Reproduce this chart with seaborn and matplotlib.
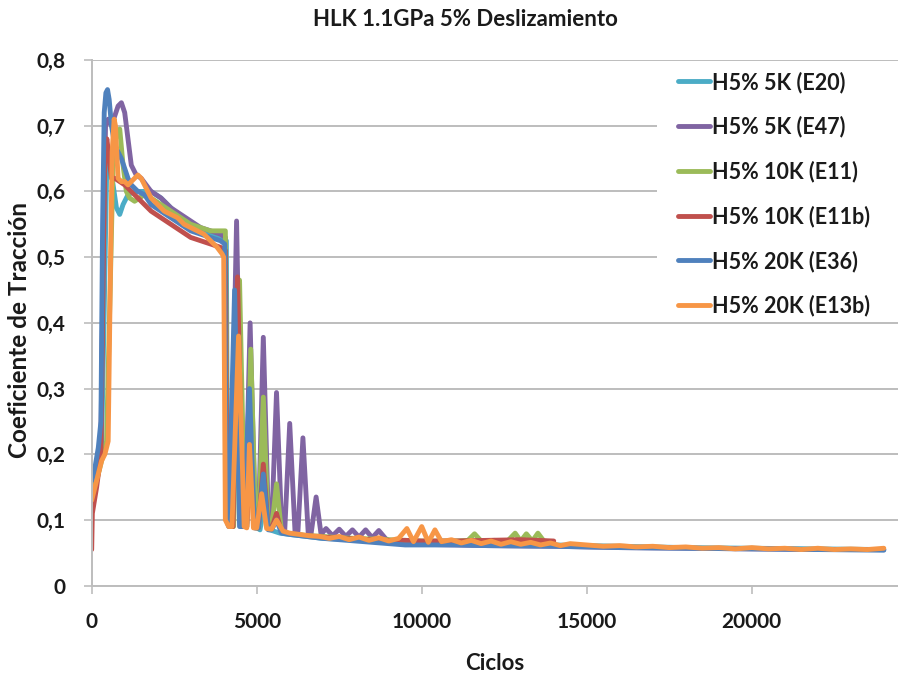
import matplotlib
matplotlib.use("Agg")
import matplotlib.pyplot as plt
from matplotlib.patches import Rectangle
import pandas as pd
import seaborn as sns

# Curvas de coeficiente de traccion
labels = ["H5% 5K (E20)", "H5% 5K (E47)", "H5% 10K (E11)",
          "H5% 10K (E11b)", "H5% 20K (E36)", "H5% 20K (E13b)"]
colors = ["#4BACC6", "#8064A2", "#9BBB59", "#C0504D", "#4F81BD", "#F79646"]

e20_x = [0, 150, 300, 380, 450, 520, 620, 750, 850, 950,
         1100, 1300, 1500, 1800, 2100, 2400, 2700, 3000, 3300, 3600,
         3900, 4080, 4120, 4250, 4420, 4600, 4700, 4800, 4950, 5100,
         5250, 5400, 5700, 6000, 6500, 7000, 8000, 9000, 10000, 11000,
         12000, 13000, 14000, 16000, 18000, 20000, 22000, 24000]
e20_y = [0.15, 0.17, 0.21, 0.42, 0.62, 0.65, 0.62, 0.575, 0.565, 0.58,
         0.595, 0.60, 0.60, 0.60, 0.59, 0.575, 0.56, 0.55, 0.54, 0.535,
         0.53, 0.525, 0.10, 0.09, 0.37, 0.09, 0.095, 0.25, 0.09, 0.085,
         0.13, 0.085, 0.08, 0.078, 0.075, 0.072, 0.07, 0.068, 0.066, 0.065,
         0.064, 0.063, 0.062, 0.06, 0.058, 0.057, 0.056, 0.055]

e47_x = [0, 150, 280, 350, 420, 500, 600, 700, 800, 900,
         1000, 1100, 1200, 1350, 1500, 1800, 2100, 2400, 2700, 3000,
         3300, 3600, 3900, 4050, 4100, 4200, 4390, 4560, 4650, 4800,
         4960, 5050, 5200, 5360, 5450, 5600, 5760, 5850, 6000, 6160,
         6250, 6400, 6560, 6650, 6800, 6950, 7100, 7300, 7500, 7700,
         7900, 8100, 8300, 8500, 8700, 8900, 9100, 9500, 10000, 11000,
         12000, 14000, 16000, 18000, 20000, 22000, 24000]
e47_y = [0.15, 0.18, 0.22, 0.50, 0.70, 0.71, 0.70, 0.715, 0.73, 0.735,
         0.72, 0.68, 0.64, 0.625, 0.62, 0.60, 0.59, 0.575, 0.565, 0.555,
         0.545, 0.54, 0.535, 0.53, 0.10, 0.09, 0.555, 0.09, 0.09, 0.40,
         0.09, 0.09, 0.378, 0.088, 0.088, 0.294, 0.085, 0.085, 0.247, 0.083,
         0.083, 0.225, 0.08, 0.08, 0.135, 0.078, 0.087, 0.076, 0.086, 0.075,
         0.085, 0.074, 0.085, 0.073, 0.084, 0.072, 0.065, 0.064, 0.063, 0.062,
         0.061, 0.06, 0.058, 0.057, 0.056, 0.055, 0.055]

e11_x = [0, 150, 300, 450, 560, 650, 750, 850, 950, 1050,
         1150, 1300, 1450, 1600, 1800, 2100, 2400, 2700, 3000, 3300,
         3600, 3800, 4050, 4120, 4200, 4300, 4480, 4640, 4700, 4820,
         4970, 5050, 5200, 5350, 5450, 5600, 5750, 5900, 6200, 6600,
         7000, 7500, 8000, 8500, 9000, 9500, 10000, 10500, 11000, 11400,
         11600, 11800, 12200, 12600, 12830, 13000, 13170, 13350, 13520, 13700,
         14000]
e11_y = [0.14, 0.16, 0.19, 0.22, 0.45, 0.65, 0.69, 0.695, 0.64, 0.60,
         0.59, 0.585, 0.59, 0.595, 0.59, 0.58, 0.57, 0.56, 0.55, 0.545,
         0.54, 0.54, 0.54, 0.10, 0.09, 0.09, 0.465, 0.09, 0.09, 0.36,
         0.088, 0.088, 0.287, 0.086, 0.086, 0.155, 0.082, 0.08, 0.078, 0.076,
         0.075, 0.073, 0.072, 0.071, 0.07, 0.069, 0.068, 0.068, 0.068, 0.069,
         0.079, 0.068, 0.069, 0.068, 0.08, 0.068, 0.079, 0.068, 0.08, 0.068,
         0.066]

e11b_x = [0, 20, 150, 280, 340, 400, 460, 530, 600, 700,
          850, 1000, 1200, 1400, 1600, 1800, 2100, 2400, 2700, 3000,
          3300, 3600, 3900, 4050, 4100, 4200, 4280, 4420, 4580, 4700,
          4800, 4950, 5050, 5200, 5350, 5450, 5600, 5750, 6000, 6500,
          7000, 7500, 8000, 8500, 9000, 9500, 10000, 11000, 12000, 13000,
          14000]
e11b_y = [0.055, 0.11, 0.15, 0.20, 0.45, 0.66, 0.68, 0.65, 0.62, 0.62,
          0.615, 0.61, 0.60, 0.59, 0.58, 0.57, 0.56, 0.55, 0.54, 0.53,
          0.525, 0.52, 0.515, 0.51, 0.10, 0.09, 0.09, 0.47, 0.09, 0.09,
          0.20, 0.088, 0.088, 0.185, 0.086, 0.086, 0.11, 0.082, 0.079, 0.076,
          0.074, 0.072, 0.071, 0.07, 0.069, 0.069, 0.068, 0.068, 0.069, 0.07,
          0.068]

e36_x = [0, 100, 200, 280, 330, 380, 430, 480, 530, 600,
         700, 800, 900, 1000, 1100, 1200, 1400, 1600, 1800, 2100,
         2400, 2700, 3000, 3300, 3600, 3900, 4030, 4080, 4150, 4330,
         4480, 4600, 4780, 4930, 5050, 5200, 5350, 5450, 5600, 5750,
         6000, 6500, 7000, 7500, 8000, 8500, 9000, 9500, 10000, 10500,
         11000, 12000, 14000, 16000, 18000, 20000, 22000, 24000]
e36_y = [0.16, 0.18, 0.21, 0.25, 0.55, 0.72, 0.75, 0.755, 0.74, 0.70,
         0.67, 0.66, 0.65, 0.635, 0.62, 0.61, 0.60, 0.595, 0.58, 0.57,
         0.56, 0.55, 0.54, 0.535, 0.53, 0.525, 0.52, 0.10, 0.09, 0.45,
         0.09, 0.09, 0.30, 0.088, 0.088, 0.17, 0.085, 0.085, 0.10, 0.08,
         0.078, 0.075, 0.072, 0.07, 0.068, 0.066, 0.064, 0.062, 0.062, 0.062,
         0.062, 0.061, 0.06, 0.058, 0.057, 0.056, 0.055, 0.054]

e13b_x = [0, 100, 200, 300, 400, 500, 560, 620, 680, 720,
          760, 800, 900, 1000, 1100, 1200, 1300, 1400, 1500, 1600,
          1700, 1800, 2000, 2200, 2400, 2600, 2800, 3000, 3200, 3400,
          3600, 3800, 3950, 4000, 4050, 4150, 4250, 4450, 4620, 4700,
          4780, 4900, 5000, 5150, 5300, 5450, 5600, 5800, 6000, 6300,
          6600, 6900, 7200, 7500, 7800, 8100, 8400, 8700, 9000, 9300,
          9550, 9750, 10000, 10200, 10400, 10600, 10900, 11200, 11500, 11800,
          12100, 12400, 12700, 13000, 13300, 13600, 13900, 14200, 14500, 15000,
          15500, 16000, 16500, 17000, 17500, 18000, 18500, 19000, 19500, 20000,
          20500, 21000, 21500, 22000, 22500, 23000, 23500, 24000]
e13b_y = [0.13, 0.15, 0.17, 0.19, 0.20, 0.22, 0.45, 0.66, 0.71, 0.70,
          0.66, 0.62, 0.615, 0.615, 0.61, 0.615, 0.62, 0.625, 0.62, 0.61,
          0.60, 0.59, 0.58, 0.57, 0.565, 0.56, 0.55, 0.545, 0.54, 0.535,
          0.525, 0.515, 0.505, 0.50, 0.10, 0.09, 0.09, 0.38, 0.09, 0.088,
          0.215, 0.088, 0.088, 0.14, 0.087, 0.086, 0.10, 0.083, 0.08, 0.078,
          0.076, 0.075, 0.072, 0.075, 0.07, 0.074, 0.069, 0.073, 0.068, 0.072,
          0.087, 0.067, 0.09, 0.066, 0.085, 0.067, 0.07, 0.065, 0.069, 0.064,
          0.068, 0.063, 0.067, 0.063, 0.066, 0.062, 0.065, 0.061, 0.064, 0.062,
          0.06, 0.061, 0.059, 0.06, 0.058, 0.059, 0.057, 0.058, 0.056, 0.058,
          0.056, 0.057, 0.055, 0.057, 0.055, 0.056, 0.055, 0.057]

series_x = [e20_x, e47_x, e11_x, e11b_x, e36_x, e13b_x]
series_y = [e20_y, e47_y, e11_y, e11b_y, e36_y, e13b_y]

frames = []
for lab, xs, ys in zip(labels, series_x, series_y):
    frames.append(pd.DataFrame({"Ciclos": xs, "coef": ys, "serie": lab}))
df = pd.concat(frames, ignore_index=True)

sns.set_theme(style="white")
plt.rcParams["font.family"] = ["Lato", "DejaVu Sans"]
plt.rcParams["font.weight"] = "bold"

fig = plt.figure(figsize=(8.98, 6.75), dpi=100)
ax = fig.add_axes([0.1021, 0.1323, 0.8979, 0.7788])

sns.lineplot(data=df, x="Ciclos", y="coef", hue="serie", hue_order=labels,
             palette=dict(zip(labels, colors)), estimator=None, sort=False,
             linewidth=3.5, ax=ax)

grid_c = "#bdbdbd"
txt_c = "#1a1a1a"
ax.set_xlim(0, 24430)
ax.set_ylim(0, 0.8)
ax.set_yticks([0, 0.1, 0.2, 0.3, 0.4, 0.5, 0.6, 0.7, 0.8])
ax.set_yticklabels(["0", "0,1", "0,2", "0,3", "0,4", "0,5", "0,6", "0,7", "0,8"])
ax.set_xticks([0, 5000, 10000, 15000, 20000])
ax.set_xticklabels(["0", "5000", "10000", "15000", "20000"])
ax.yaxis.grid(True, color=grid_c, linewidth=1.4)
ax.set_axisbelow(True)
for s in ["top", "right"]:
    ax.spines[s].set_visible(False)
for s in ["left", "bottom"]:
    ax.spines[s].set_color(grid_c)
    ax.spines[s].set_linewidth(1.4)
ax.tick_params(axis="both", which="major", direction="out", length=6,
               width=1.2, color=grid_c, labelsize=15, labelcolor=txt_c,
               left=True, bottom=True, pad=13)
for t in ax.get_xticklabels() + ax.get_yticklabels():
    t.set_fontweight("bold")

ax.set_xlabel("Ciclos", fontsize=16, fontweight="bold", color=txt_c,
              labelpad=15)
ax.set_ylabel("")
fig.text(20 / 898, 1 - 330 / 675, "Coeficiente de Tracción", rotation=90,
         ha="center", va="center", fontsize=17.5, fontweight="bold",
         color=txt_c)
fig.text(465 / 898, 1 - 19 / 675, "HLK 1.1GPa 5% Deslizamiento",
         ha="center", va="center", fontsize=16, fontweight="bold",
         color=txt_c)

# fondo blanco de la leyenda (tapa las lineas de cuadricula)
ax.add_patch(Rectangle((0.701, 0.515), 0.3, 0.475, transform=ax.transAxes,
                       facecolor="white", edgecolor="none", zorder=1))

leg = ax.legend(loc="upper left", bbox_to_anchor=(674 / 898, 1 - 67 / 675),
                bbox_transform=fig.transFigure, frameon=False,
                fontsize=15.5, handlelength=1.45, handletextpad=0.1,
                labelspacing=1.07, borderaxespad=0, borderpad=0.2)
for line in leg.get_lines():
    line.set_linewidth(3.5)
for t in leg.get_texts():
    t.set_fontweight("bold")
    t.set_color(txt_c)

fig.savefig("out.png", dpi=100)
